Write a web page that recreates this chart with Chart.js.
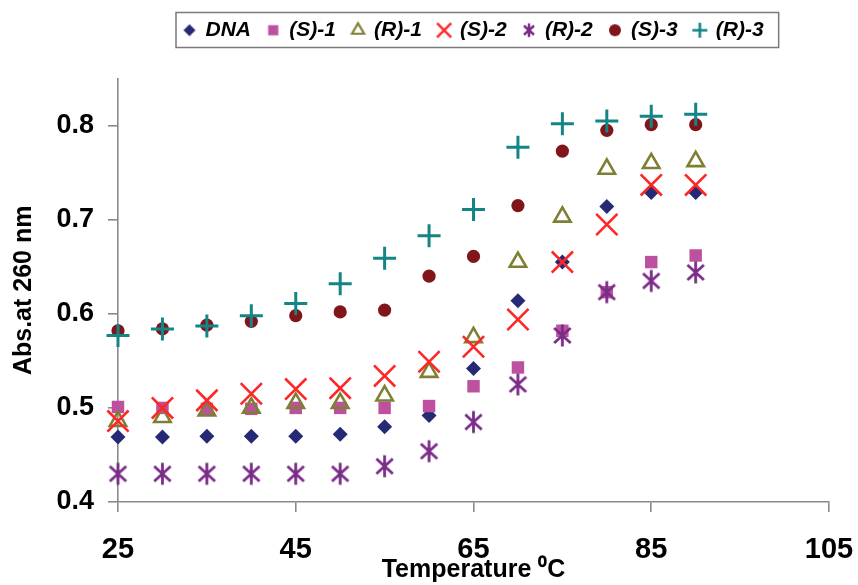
<!DOCTYPE html>
<html>
<head>
<meta charset="utf-8">
<title>DNA melting curves</title>
<script src="https://cdn.jsdelivr.net/npm/chart.js@4/dist/chart.umd.min.js"></script>
<style>
  html, body { margin: 0; padding: 0; background: #fff; }
  #wrap { width: 858px; height: 585px; }
</style>
</head>
<body>
<div id="wrap"><canvas id="c" width="858" height="585"></canvas></div>
<script>
// Temperatures (°C) at which absorbance was recorded
const temperatures = [25, 30, 35, 40, 45, 50, 55, 60, 65, 70, 75, 80, 85, 90];

// Absorbance at 260 nm for each sample
const absDNA = [0.469, 0.469, 0.470, 0.470, 0.470, 0.472, 0.480, 0.492, 0.542, 0.614, 0.655, 0.714, 0.729, 0.729];
const absS1  = [0.501, 0.500, 0.499, 0.499, 0.500, 0.500, 0.500, 0.502, 0.523, 0.543, 0.582, 0.623, 0.655, 0.662];
const absR1  = [0.486, 0.490, 0.497, 0.500, 0.505, 0.505, 0.513, 0.538, 0.575, 0.655, 0.703, 0.754, 0.760, 0.762];
const absS2  = [0.486, 0.500, 0.508, 0.515, 0.520, 0.521, 0.534, 0.549, 0.565, 0.594, 0.655, 0.695, 0.737, 0.737];
const absR2  = [0.430, 0.430, 0.430, 0.430, 0.430, 0.430, 0.438, 0.454, 0.485, 0.525, 0.577, 0.623, 0.635, 0.644];
const absS3  = [0.582, 0.584, 0.588, 0.592, 0.598, 0.602, 0.604, 0.640, 0.661, 0.715, 0.773, 0.795, 0.801, 0.801];
const absR3  = [0.577, 0.584, 0.587, 0.598, 0.611, 0.632, 0.659, 0.683, 0.711, 0.777, 0.802, 0.805, 0.810, 0.812];

const seriesNames = ['DNA', '(S)-1', '(R)-1', '(S)-2', '(R)-2', '(S)-3', '(R)-3'];

// Axis tick positions
const xTickValues = [25, 45, 65, 85, 105];
const yTickValues = [0.4, 0.5, 0.6, 0.7, 0.8];

const FONT = "'Liberation Sans', Arial, Helvetica, sans-serif";
const AXIS_GREY = '#8a8a8a';

// Six-armed asterisk marker (vertical stroke plus two diagonals)
function asteriskCanvas(size, color, lw) {
  const c = document.createElement('canvas');
  c.width = c.height = size;
  const ctx = c.getContext('2d');
  const m = size / 2, r = size / 2 - lw / 2;
  ctx.strokeStyle = color;
  ctx.lineWidth = lw;
  ctx.beginPath();
  ctx.moveTo(m, m - r); ctx.lineTo(m, m + r);
  const a = Math.PI / 4;
  const dx = Math.cos(a) * r * 1.05, dy = Math.sin(a) * r * 0.95;
  ctx.moveTo(m - dx, m - dy); ctx.lineTo(m + dx, m + dy);
  ctx.moveTo(m - dx, m + dy); ctx.lineTo(m + dx, m - dy);
  ctx.stroke();
  return c;
}

// Small marker images for the legend, drawn with Chart.js' own point renderer
function iconCanvas(style, radius, fill, stroke, lw) {
  const size = Math.ceil(radius * 2 + lw * 2 + 2);
  const c = document.createElement('canvas');
  c.width = c.height = size;
  const ctx = c.getContext('2d');
  ctx.fillStyle = fill;
  ctx.strokeStyle = stroke;
  ctx.lineWidth = lw;
  Chart.helpers.drawPoint(ctx, { pointStyle: style, radius: radius, rotation: 0, borderWidth: lw }, size / 2, size / 2);
  return c;
}

const colors = {
  dna: '#262a74',
  s1: '#bd519f',
  r1: '#7f7f34',
  s2: '#ff2626',
  r2: '#7b2c88',
  s3: '#80151a',
  r3: '#138585'
};

const asteriskBig = asteriskCanvas(25, colors.r2, 2.8);

function series(values) {
  return temperatures.map((t, i) => ({ x: t, y: values[i] }));
}

const datasets = [
  { label: seriesNames[0], data: series(absDNA), pointStyle: 'rectRot', pointRadius: 7.5,
    backgroundColor: colors.dna, borderColor: colors.dna, borderWidth: 0 },
  { label: seriesNames[1], data: series(absS1), pointStyle: 'rect', pointRadius: 8.8,
    backgroundColor: colors.s1, borderColor: colors.s1, borderWidth: 0 },
  { label: seriesNames[2], data: series(absR1), pointStyle: 'triangle', pointRadius: 9.5,
    backgroundColor: 'rgba(0,0,0,0)', borderColor: colors.r1, borderWidth: 2.6 },
  { label: seriesNames[3], data: series(absS2), pointStyle: 'crossRot', pointRadius: 15,
    backgroundColor: colors.s2, borderColor: colors.s2, borderWidth: 2.6 },
  { label: seriesNames[4], data: series(absR2), pointStyle: asteriskBig, pointRadius: 12,
    backgroundColor: colors.r2, borderColor: colors.r2, borderWidth: 2.6 },
  { label: seriesNames[5], data: series(absS3), pointStyle: 'circle', pointRadius: 6.6,
    backgroundColor: colors.s3, borderColor: colors.s3, borderWidth: 0 },
  { label: seriesNames[6], data: series(absR3), pointStyle: 'cross', pointRadius: 11.5,
    backgroundColor: colors.r3, borderColor: colors.r3, borderWidth: 3 }
];
// later series are painted over earlier ones
datasets.forEach((d, i) => {
  d.order = datasets.length - i;
  d.clip = false;
  d.showLine = false;
  d.pointHoverRadius = d.pointRadius;
});

const legendIcons = [
  iconCanvas('rectRot', 6, colors.dna, colors.dna, 0),
  iconCanvas('rect', 7.2, colors.s1, colors.s1, 0),
  iconCanvas('triangle', 7, 'rgba(0,0,0,0)', colors.r1, 2.2),
  iconCanvas('crossRot', 10, colors.s2, colors.s2, 2.4),
  asteriskCanvas(16, colors.r2, 2.5),
  iconCanvas('circle', 6, colors.s3, colors.s3, 0),
  iconCanvas('cross', 7.5, colors.r3, colors.r3, 2.6)
];

// Legend placement and its frame
const LEGEND_X = 184;     // left of first legend marker box
const LEGEND_TOP = 3;
const LEGEND_PAD = 16.7;
const legendFrame = {
  id: 'legendFrame',
  afterLayout(chart) {
    const lg = chart.legend;
    if (!lg || !lg.lineWidths) return;
    const pad = lg.options.labels.padding;
    const startX = (lg.left + pad + lg.right - lg.lineWidths[0]) / 2;
    const dx = LEGEND_X - startX;
    lg.left += dx; lg.right += dx;
    const dy = LEGEND_TOP - lg.top;
    lg.top += dy; lg.bottom += dy;
    lg._frame = {
      x0: LEGEND_X - 8,
      x1: LEGEND_X + lg.lineWidths[0] - pad + 15
    };
  },
  afterDraw(chart) {
    const lg = chart.legend;
    if (!lg || !lg._frame) return;
    const ctx = chart.ctx;
    ctx.save();
    ctx.strokeStyle = '#7a7a7a';
    ctx.lineWidth = 1.5;
    ctx.strokeRect(lg._frame.x0, 12.5, lg._frame.x1 - lg._frame.x0, 35);
    ctx.restore();
  }
};

new Chart(document.getElementById('c'), {
  type: 'scatter',
  data: { datasets },
  plugins: [legendFrame],
  options: {
    responsive: false,
    animation: false,
    events: [],
    layout: { padding: { top: 30.9, left: 0, right: 29, bottom: 0 } },
    plugins: {
      tooltip: { enabled: false },
      legend: {
        position: 'top',
        labels: {
          usePointStyle: true,
          boxWidth: 11,
          boxHeight: 11,
          padding: LEGEND_PAD,
          color: '#000',
          font: { family: FONT, size: 21, weight: 'bold', style: 'italic' },
          sort: (a, b) => a.datasetIndex - b.datasetIndex,
          generateLabels(chart) {
            const items = Chart.defaults.plugins.legend.labels.generateLabels(chart);
            items.forEach(it => { it.pointStyle = legendIcons[it.datasetIndex]; it.fontColor = '#000'; });
            return items;
          }
        }
      }
    },
    scales: {
      x: {
        type: 'linear',
        min: 25,
        max: 105,
        afterBuildTicks: s => { s.ticks = xTickValues.map(v => ({ value: v })); },
        afterFit: s => { s.height = 83; s.paddingLeft = 0; s.paddingRight = 0; },
        border: { display: true, color: AXIS_GREY, width: 1.6 },
        grid: { display: true, drawOnChartArea: false, drawTicks: true, tickLength: 10, color: AXIS_GREY, lineWidth: 1.6 },
        ticks: {
          color: '#000',
          padding: 21,
          maxRotation: 0,
          font: { family: FONT, size: 29, weight: 'bold' },
          callback: v => String(v)
        },
        title: {
          display: true,
          text: 'Temperature \u2070C',
          color: '#000',
          font: { family: FONT, size: 25, weight: 'bold' },
          padding: { top: 0, bottom: 0 }
        }
      },
      y: {
        type: 'linear',
        min: 0.4,
        max: 0.85,
        afterBuildTicks: s => { s.ticks = yTickValues.map(v => ({ value: v })); },
        afterFit: s => { s.width = 118; },
        border: { display: true, color: AXIS_GREY, width: 1.6 },
        grid: { display: true, drawOnChartArea: false, drawTicks: true, tickLength: 10, color: AXIS_GREY, lineWidth: 1.6 },
        ticks: {
          color: '#000',
          padding: 14,
          font: { family: FONT, size: 27, weight: 'bold' },
          callback: v => Number(v).toFixed(1)
        },
        title: {
          display: true,
          text: 'Abs.at 260 nm',
          color: '#000',
          font: { family: FONT, size: 25, weight: 'bold' },
          padding: { top: 9, bottom: 9 }
        }
      }
    }
  }
});
</script>
</body>
</html>
